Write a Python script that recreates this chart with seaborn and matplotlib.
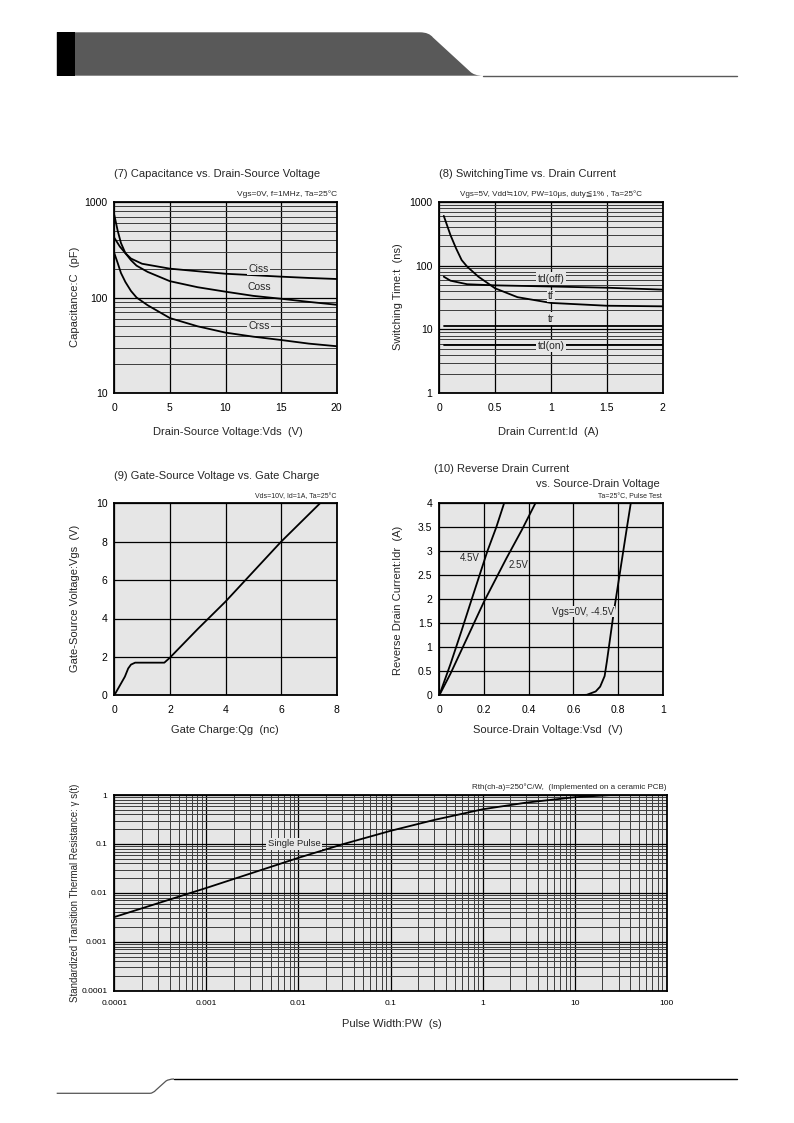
import numpy as np
import pandas as pd
import matplotlib
matplotlib.use("Agg")
import matplotlib.pyplot as plt
import seaborn as sns
from matplotlib.path import Path
from matplotlib.patches import PathPatch, Rectangle
from matplotlib.ticker import LogLocator, NullFormatter, FixedLocator, FixedFormatter

# ---------------- data ----------------
# (7) Capacitance vs Drain-Source Voltage
cap_vds_ciss = [0, 0.5, 1, 1.5, 2.5, 5, 7.5, 10, 12.5, 15, 17.5, 20]
cap_ciss = [420, 340, 290, 255, 225, 200, 188, 177, 171, 165, 160, 156]
cap_vds_coss = [0, 0.3, 0.6, 1, 1.5, 2, 3, 5, 7.5, 10, 12.5, 15, 17.5, 20]
cap_coss = [727, 500, 370, 290, 245, 215, 185, 148, 128, 115, 104, 97, 90, 84]
cap_vds_crss = [0, 0.3, 0.6, 1, 1.5, 2, 3, 5, 7.5, 10, 12.5, 15, 17.5, 20]
cap_crss = [290, 230, 180, 145, 117, 100, 83, 61, 50, 43, 39, 36, 33, 31]

# (8) Switching time vs drain current
sw_id_tf = [0.04, 0.1, 0.15, 0.2, 0.25, 0.35, 0.5, 0.7, 1.0, 1.5, 2.0]
sw_tf = [600, 300, 186, 122, 96, 67, 44, 32, 26, 23.5, 23]
sw_id_tdoff = [0.04, 0.1, 0.25, 0.5, 1.0, 1.5, 2.0]
sw_tdoff = [67, 58, 51, 49, 47, 45, 42]
sw_id_tr = [0.04, 2.0]
sw_tr = [11.5, 11.5]
sw_id_tdon = [0.04, 2.0]
sw_tdon = [5.7, 5.7]

# (9) Gate-source voltage vs gate charge
qg = [0, 0.38, 0.5, 0.6, 0.75, 1.8, 2.0, 3.0, 4.0, 5.0, 6.0, 7.4]
vgs = [0, 0.97, 1.4, 1.6, 1.7, 1.7, 1.96, 3.45, 4.88, 6.44, 8.0, 10.0]

# (10) Reverse drain current vs source-drain voltage
vsd_45 = [0, 0.05, 0.1, 0.145, 0.18, 0.215, 0.255, 0.29]
idr_45 = [0, 0.65, 1.35, 2.0, 2.5, 3.0, 3.5, 4.0]
vsd_25 = [0, 0.05, 0.1, 0.2, 0.3, 0.37, 0.43]
idr_25 = [0, 0.45, 0.95, 1.95, 2.85, 3.45, 4.0]
vsd_0 = [0.6, 0.66, 0.7, 0.72, 0.74, 0.75, 0.765, 0.78, 0.8, 0.82, 0.84, 0.857]
idr_0 = [0, 0.01, 0.08, 0.18, 0.4, 0.7, 1.2, 1.7, 2.3, 2.9, 3.5, 4.0]

# (11) Transient thermal resistance
pw = [1e-4, 1e-3, 0.01, 0.03, 0.1, 0.3, 1, 3, 10, 25]
rst = [0.0032, 0.0126, 0.052, 0.098, 0.185, 0.31, 0.51, 0.70, 0.9, 1.0]

# ---------------- style ----------------
sns.set_theme(style="white")
plt.rcParams['font.family'] = ['Liberation Sans', 'DejaVu Sans', 'Noto Sans CJK JP']
plt.rcParams['axes.unicode_minus'] = False

W, H = 794, 1123
fig = plt.figure(figsize=(W / 100, H / 100), dpi=100)
BG = '#e6e6e6'
LINE_KW = dict(color='black', linewidth=1.3, estimator=None, sort=False, legend=False)


def px(x, y):
    return x / W, 1 - y / H


def axes_px(left, top, right, bottom):
    return fig.add_axes([left / W, 1 - bottom / H, (right - left) / W, (bottom - top) / H])


# overlay for page decorations
ov = fig.add_axes([0, 0, 1, 1])
ov.set_xlim(0, W)
ov.set_ylim(H, 0)
ov.axis('off')
hdr = Path([(56.7, 32.3), (420, 32.3), (429, 32.3), (433, 37.5), (470, 71.5), (474, 75.7), (483, 75.7),
            (56.7, 75.7), (56.7, 32.3)],
           [Path.MOVETO, Path.LINETO, Path.CURVE3, Path.CURVE3, Path.LINETO, Path.CURVE3, Path.CURVE3,
            Path.LINETO, Path.CLOSEPOLY])
ov.add_patch(PathPatch(hdr, facecolor='#595959', edgecolor='none'))
ov.add_patch(Rectangle((56.7, 32.3), 18.3, 43.4, facecolor='black', edgecolor='none'))
ov.plot([483, 737], [75.5, 75.5], color='#595959', lw=1.0)
ftr = Path([(56.7, 1093.3), (150, 1093.3), (153, 1093.3), (156, 1090), (166, 1081), (169, 1079), (174, 1079)],
           [Path.MOVETO, Path.LINETO, Path.CURVE3, Path.CURVE3, Path.LINETO, Path.CURVE3, Path.CURVE3])
ov.add_patch(PathPatch(ftr, facecolor='none', edgecolor='#555555', lw=0.9))
ov.plot([174, 737], [1079, 1079], color='black', lw=1.0)


def style_ax(ax, logx=False, logy=False, fs=7.5):
    ax.set_facecolor(BG)
    for s in ax.spines.values():
        s.set_visible(True)
        s.set_color('black')
        s.set_linewidth(1.3)
    ax.tick_params(which='both', length=0, labelsize=fs, colors='black')
    ax.tick_params(axis='x', pad=7)
    ax.tick_params(axis='y', pad=5)
    ax.grid(which='major', color='black', linewidth=0.9)
    if logx:
        ax.xaxis.set_minor_locator(LogLocator(base=10, subs=np.arange(2, 10)))
        ax.xaxis.set_minor_formatter(NullFormatter())
    if logy:
        ax.yaxis.set_minor_locator(LogLocator(base=10, subs=np.arange(2, 10)))
        ax.yaxis.set_minor_formatter(NullFormatter())
    if logx or logy:
        ax.grid(which='minor', color='#3c3c3c', linewidth=0.7)
    ax.set_axisbelow(True)
    ax.set_xlabel('')
    ax.set_ylabel('')


def label(ax, x, y, s, fs=7.5):
    ax.text(x, y, s, fontsize=fs, ha='center', va='center', zorder=5,
            bbox=dict(facecolor=BG, edgecolor='none', pad=1.0))


def ftext(x, y, s, fs=8, ha='left', rot=0, **kw):
    fig.text(*px(x, y), s, fontsize=fs, ha=ha, va='center', rotation=rot, **kw)


# ---------- (7) ----------
ax7 = axes_px(114.3, 201.7, 336.7, 393.3)
for xs, ys in [(cap_vds_ciss, cap_ciss), (cap_vds_coss, cap_coss), (cap_vds_crss, cap_crss)]:
    sns.lineplot(x=xs, y=ys, ax=ax7, **LINE_KW)
ax7.set_yscale('log')
ax7.set_xlim(0, 20)
ax7.set_ylim(10, 1000)
ax7.set_xticks([0, 5, 10, 15, 20])
ax7.yaxis.set_major_locator(FixedLocator([10, 100, 1000]))
ax7.yaxis.set_major_formatter(FixedFormatter(['10', '100', '1000']))
style_ax(ax7, logy=True)
label(ax7, 13.0, 200, 'Ciss')
label(ax7, 13.0, 130, 'Coss')
label(ax7, 13.0, 50, 'Crss')
ftext(114, 174, '(7) Capacitance vs. Drain-Source Voltage', fs=8)
ftext(337, 194, 'Vgs=0V, f=1MHz, Ta=25°C', fs=6.0, ha='right')
ftext(228, 432, 'Drain-Source Voltage:Vds  (V)', fs=8, ha='center')
ftext(75, 297, 'Capacitance:C  (pF)', fs=8, ha='center', rot=90)

# ---------- (8) ----------
ax8 = axes_px(439.3, 201.7, 662.7, 393.3)
for xs, ys in [(sw_id_tf, sw_tf), (sw_id_tdoff, sw_tdoff), (sw_id_tr, sw_tr), (sw_id_tdon, sw_tdon)]:
    sns.lineplot(x=xs, y=ys, ax=ax8, **LINE_KW)
ax8.set_yscale('log')
ax8.set_xlim(0, 2)
ax8.set_ylim(1, 1000)
ax8.xaxis.set_major_locator(FixedLocator([0, 0.5, 1, 1.5, 2]))
ax8.xaxis.set_major_formatter(FixedFormatter(['0', '0.5', '1', '1.5', '2']))
ax8.yaxis.set_major_locator(FixedLocator([1, 10, 100, 1000]))
ax8.yaxis.set_major_formatter(FixedFormatter(['1', '10', '100', '1000']))
style_ax(ax8, logy=True)
label(ax8, 1.0, 62, 'td(off)')
label(ax8, 1.0, 33.4, 'tf')
label(ax8, 1.0, 14.8, 'tr')
label(ax8, 1.0, 5.5, 'td(on)')
ftext(439, 174, '(8) SwitchingTime vs. Drain Current', fs=8)
ftext(551, 194, 'Vgs=5V, Vdd≒10V, PW=10μs, duty≦1% , Ta=25°C', fs=5.8, ha='center')
ftext(548, 432, 'Drain Current:Id  (A)', fs=8, ha='center')
ftext(398, 297, 'Switching Time:t  (ns)', fs=8, ha='center', rot=90)

# ---------- (9) ----------
ax9 = axes_px(114.3, 503.3, 336.7, 695.3)
sns.lineplot(x=qg, y=vgs, ax=ax9, **LINE_KW)
ax9.set_xlim(0, 8)
ax9.set_ylim(0, 10)
ax9.set_xticks([0, 2, 4, 6, 8])
ax9.set_yticks([0, 2, 4, 6, 8, 10])
style_ax(ax9)
ftext(114, 476, '(9) Gate-Source Voltage vs. Gate Charge', fs=8)
ftext(336, 497, 'Vds=10V, Id=1A, Ta=25°C', fs=5.0, ha='right')
ftext(225, 730, 'Gate Charge:Qg  (nc)', fs=8, ha='center')
ftext(75, 598, 'Gate-Source Voltage:Vgs  (V)', fs=8, ha='center', rot=90)

# ---------- (10) ----------
ax10 = axes_px(439.3, 503.3, 662.7, 695.3)
for xs, ys in [(vsd_45, idr_45), (vsd_25, idr_25), (vsd_0, idr_0)]:
    sns.lineplot(x=xs, y=ys, ax=ax10, **LINE_KW)
ax10.set_xlim(0, 1)
ax10.set_ylim(0, 4)
ax10.xaxis.set_major_locator(FixedLocator([0, 0.2, 0.4, 0.6, 0.8, 1]))
ax10.xaxis.set_major_formatter(FixedFormatter(['0', '0.2', '0.4', '0.6', '0.8', '1']))
ax10.yaxis.set_major_locator(FixedLocator([0, 0.5, 1, 1.5, 2, 2.5, 3, 3.5, 4]))
ax10.yaxis.set_major_formatter(FixedFormatter(['0', '0.5', '1', '1.5', '2', '2.5', '3', '3.5', '4']))
style_ax(ax10)
ax10.text(0.135, 2.87, '4.5V', fontsize=7, ha='center', va='center', zorder=5)
ax10.text(0.355, 2.72, '2.5V', fontsize=7, ha='center', va='center', zorder=5)
ax10.text(0.645, 1.74, 'Vgs=0V, -4.5V', fontsize=7, ha='center', va='center', zorder=5,
          bbox=dict(facecolor=BG, edgecolor='none', pad=0.5))
ftext(434, 469, '(10) Reverse Drain Current', fs=8)
ftext(660, 484, 'vs. Source-Drain Voltage', fs=8, ha='right')
ftext(662, 497, 'Ta=25°C, Pulse Test', fs=5.0, ha='right')
ftext(548, 730, 'Source-Drain Voltage:Vsd  (V)', fs=8, ha='center')
ftext(398, 600, 'Reverse Drain Current:Idr  (A)', fs=8, ha='center', rot=90)

# ---------- (11) ----------
ax11 = axes_px(114.3, 795, 666.7, 990.7)
sns.lineplot(x=pw, y=rst, ax=ax11, **LINE_KW)
ax11.set_xscale('log')
ax11.set_yscale('log')
ax11.set_xlim(1e-4, 100)
ax11.set_ylim(1e-4, 1)
xt = [1e-4, 1e-3, 1e-2, 0.1, 1, 10, 100]
ax11.xaxis.set_major_locator(FixedLocator(xt))
ax11.xaxis.set_major_formatter(FixedFormatter(['0.0001', '0.001', '0.01', '0.1', '1', '10', '100']))
yt = [1e-4, 1e-3, 1e-2, 0.1, 1]
ax11.yaxis.set_major_locator(FixedLocator(yt))
ax11.yaxis.set_major_formatter(FixedFormatter(['0.0001', '0.001', '0.01', '0.1', '1']))
style_ax(ax11, logx=True, logy=True, fs=6.0)
ax11.text(0.009, 0.1, 'Single Pulse', fontsize=6.8, ha='center', va='center', zorder=5,
          bbox=dict(facecolor=BG, edgecolor='none', pad=1.0))
ftext(666, 787, 'Rth(ch-a)=250°C/W,  (Implemented on a ceramic PCB)', fs=5.8, ha='right')
ftext(392, 1024, 'Pulse Width:PW  (s)', fs=8, ha='center')
ftext(75, 893, 'Standardized Transition Thermal Resistance: γ s(t)', fs=7, ha='center', rot=90)

fig.savefig('out.png', dpi=100)
